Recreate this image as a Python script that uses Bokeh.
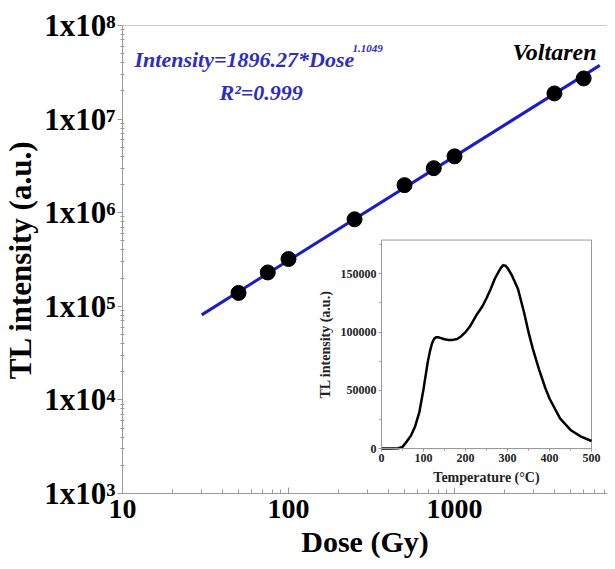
import numpy as np
from bokeh.plotting import figure
from bokeh.models import (Range1d, LinearScale, LinearAxis, FixedTicker, Label, Span)
from bokeh.embed import file_html
from bokeh.resources import INLINE

# ---------------- data ----------------
dose = [50, 75, 100, 250, 500, 750, 1000, 4000, 6000]
intensity = [1.39e5, 2.3e5, 3.2e5, 8.5e5, 1.97e6, 2.99e6, 4.0e6, 1.88e7, 2.72e7]
fit_dose = [30, 7500]
fit_intensity = [8.1e4, 3.75e7]

y_ticks = [1e3, 1e4, 1e5, 1e6, 1e7, 1e8]
y_tick_labels = ["1x10³", "1x10⁴", "1x10⁵", "1x10⁶", "1x10⁷", "1x10⁸"]
x_ticks = [10, 100, 1000]
x_tick_labels = ["10", "100", "1000"]

temp = [0, 20, 40, 50, 60, 70, 80, 90, 100, 110, 115, 120, 125, 130, 135, 140, 150,
        160, 170, 180, 190, 200, 210, 225, 240, 250, 260, 270, 280, 285, 290, 295,
        300, 310, 325, 340, 350, 360, 375, 390, 400, 425, 450, 475, 500]
tl = [0, 0, 300, 1500, 6000, 11000, 19000, 31000, 51000, 74000, 83000, 90000, 94000,
      95500, 95600, 95000, 93800, 93200, 93300, 94000, 96500, 100000, 104500, 114000,
      122000, 129000, 137000, 146000, 152500, 155500, 157500, 157000, 155000, 149000,
      137000, 116000, 100000, 86000, 68000, 52000, 43000, 26000, 16000, 10300, 6500]
inset_x_ticks = [0, 100, 200, 300, 400, 500]
inset_x_labels = ["0", "100", "200", "300", "400", "500"]
inset_y_ticks = [0, 50000, 100000, 150000]
inset_y_labels = ["0", "50000", "100000", "150000"]
inset_x_max = 500
inset_y_max = 179000

# ---------------- layout constants (canvas px) ----------------
W, H = 607, 560
FL, FR, FT, FB = 122, 607, 25, 494          # main frame
IL, IR, IT, IB = 381, 591, 240, 449          # inset frame
X0, X1 = 10, 8350
Y0, Y1 = 1e3, 1e8

FONT = "Liberation Serif"

p = figure(width=W, height=H, x_axis_type="log", y_axis_type="log",
           x_range=Range1d(X0, X1), y_range=Range1d(Y0, Y1),
           output_backend="svg", toolbar_location=None,
           min_border_left=FL, min_border_right=W - FR,
           min_border_top=FT, min_border_bottom=H - FB)
p.grid.visible = False
p.outline_line_color = None
p.background_fill_color = "white"
p.border_fill_color = "white"

AX = "#9a9a9a"

# main x axis
xa = p.xaxis[0]
minor_x = [k * 10 ** e for e in (1, 2, 3) for k in range(2, 10)]
xa.ticker = FixedTicker(ticks=x_ticks, minor_ticks=minor_x)
xa.major_label_overrides = {t: s for t, s in zip(x_ticks, x_tick_labels)}
xa.axis_line_color = AX
xa.major_tick_line_color = AX
xa.minor_tick_line_color = AX
xa.major_tick_in = 6
xa.major_tick_out = 0
xa.minor_tick_in = 4
xa.minor_tick_out = 0
xa.major_label_text_font = FONT
xa.major_label_text_font_style = "bold"
xa.major_label_text_font_size = "28px"
xa.major_label_text_color = "black"
xa.major_label_standoff = 6
xa.axis_label = "Dose (Gy)"
xa.axis_label_text_font = FONT
xa.axis_label_text_font_style = "bold"
xa.axis_label_text_font_size = "30px"
xa.axis_label_text_color = "black"
xa.axis_label_standoff = 4

# main y axis
ya = p.yaxis[0]
minor_y = [k * 10 ** e for e in (3, 4, 5, 6, 7) for k in range(2, 10)]
ya.ticker = FixedTicker(ticks=y_ticks, minor_ticks=minor_y)
ya.major_label_overrides = {t: s for t, s in zip(y_ticks, y_tick_labels)}
ya.axis_line_color = AX
ya.major_tick_line_color = AX
ya.minor_tick_line_color = AX
ya.major_tick_in = 0
ya.major_tick_out = 5
ya.minor_tick_in = 2
ya.minor_tick_out = 2
ya.major_label_text_font = FONT
ya.major_label_text_font_style = "bold"
ya.major_label_text_font_size = "31px"
ya.major_label_text_color = "black"
ya.major_label_standoff = 2
ya.axis_label = "TL intensity (a.u.)"
ya.axis_label_text_font = FONT
ya.axis_label_text_font_style = "bold"
ya.axis_label_text_font_size = "31px"
ya.axis_label_text_color = "black"
ya.axis_label_standoff = 3

p.add_layout(Span(location=Y1, dimension="width", line_color=AX, line_width=1))

# fit line and points
p.line(fit_dose, fit_intensity, line_color="#1c1cc8", line_width=3)
p.scatter(dose, intensity, size=15, fill_color="black", line_color="black")

# helpers: canvas pixel -> main data coords
def dx(px):
    return 10 ** (np.log10(X0) + (px - FL) / (FR - FL) * (np.log10(X1) - np.log10(X0)))

def dy(py):
    return 10 ** (np.log10(Y1) - (py - FT) / (FB - FT) * (np.log10(Y1) - np.log10(Y0)))

BLUE = "#2d2dc0"
p.add_layout(Label(x=dx(134), y=dy(59), text="Intensity=1896.27*Dose",
                   text_font=FONT, text_font_style="bold italic", text_font_size="22px",
                   text_color=BLUE, text_baseline="alphabetic", text_align="left"))
p.add_layout(Label(x=dx(352), y=dy(48), text="1.1049",
                   text_font=FONT, text_font_style="bold italic", text_font_size="11px",
                   text_color=BLUE, text_baseline="alphabetic", text_align="left"))
p.add_layout(Label(x=dx(219), y=dy(92), text="R²=0.999",
                   text_font=FONT, text_font_style="bold italic", text_font_size="22px",
                   text_color=BLUE, text_baseline="alphabetic", text_align="left"))
p.add_layout(Label(x=dx(596), y=dy(52), text="Voltaren",
                   text_font=FONT, text_font_style="bold italic", text_font_size="24px",
                   text_color="black", text_baseline="alphabetic", text_align="right"))

# ---------------- inset via extra ranges ----------------
tpp = inset_x_max / (IR - IL)
ipp = inset_y_max / (IB - IT)
p.extra_x_ranges = {"tx": Range1d(-(IL - FL) * tpp, inset_x_max + (FR - IR) * tpp)}
p.extra_y_ranges = {"ty": Range1d(-(FB - IB) * ipp, inset_y_max + (IT - FT) * ipp)}
p.extra_x_scales = {"tx": LinearScale()}
p.extra_y_scales = {"ty": LinearScale()}

p.quad(left=[0], right=[inset_x_max], bottom=[0], top=[inset_y_max],
       x_range_name="tx", y_range_name="ty",
       fill_color="white", line_color=AX, line_width=1)
p.line(temp, tl, x_range_name="tx", y_range_name="ty", line_color="black",
       line_width=2.5, line_join="round")

ix = LinearAxis(x_range_name="tx", y_range_name="ty", fixed_location=0,
                bounds=(0, inset_x_max),
                ticker=FixedTicker(ticks=inset_x_ticks,
                                   minor_ticks=[50, 150, 250, 350, 450]))
ix.major_label_overrides = {t: s for t, s in zip(inset_x_ticks, inset_x_labels)}
iy = LinearAxis(x_range_name="tx", y_range_name="ty", fixed_location=0,
                bounds=(0, inset_y_max),
                ticker=FixedTicker(ticks=inset_y_ticks,
                                   minor_ticks=[25000, 75000, 125000, 175000]))
iy.major_label_overrides = {t: s for t, s in zip(inset_y_ticks, inset_y_labels)}
for a in (ix, iy):
    a.axis_line_color = AX
    a.major_tick_line_color = AX
    a.minor_tick_line_color = AX
    a.major_tick_in = 0
    a.major_tick_out = 3
    a.minor_tick_in = 0
    a.minor_tick_out = 2
    a.major_label_text_font = FONT
    a.major_label_text_font_style = "bold"
    a.major_label_text_font_size = "12px"
    a.major_label_text_color = "#222222"
    a.major_label_standoff = 2
    a.axis_label_text_font = FONT
    a.axis_label_text_font_style = "bold"
    a.axis_label_text_font_size = "14px"
    a.axis_label_text_color = "#222222"
ix.axis_label = "Temperature (°C)"
ix.axis_label_standoff = 5
iy.axis_label = "TL intensity (a.u.)"
iy.axis_label_standoff = 5
p.add_layout(ix, "below")
p.add_layout(iy, "left")

open("out.html", "w").write(file_html(p, INLINE))
